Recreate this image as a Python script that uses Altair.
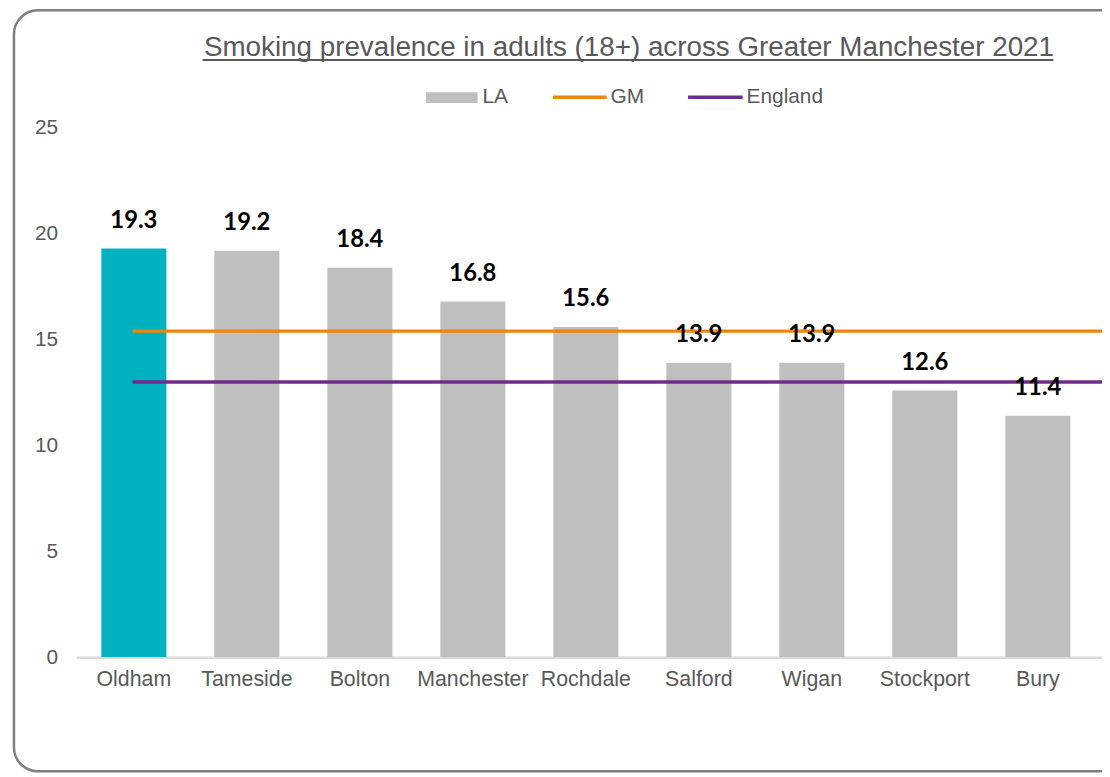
import altair as alt
import pandas as pd

# ---- data ----
areas = ["Oldham", "Tameside", "Bolton", "Manchester", "Rochdale",
         "Salford", "Wigan", "Stockport", "Bury"]
prevalence = [19.3, 19.2, 18.4, 16.8, 15.6, 13.9, 13.9, 12.6, 11.4]
highlight_area = "Oldham"
ref_series = ["GM", "England"]
ref_values = [15.4, 13.0]
legend_labels = ["LA", "GM", "England"]
y_ticks = [0, 5, 10, 15, 20, 25]
title_text = "Smoking prevalence in adults (18+) across Greater Manchester 2021"

# ---- styling ----
TEAL = "#00B1BF"
GREY = "#BFBFBF"
ORANGE = "#EC870E"
PURPLE = "#702C8A"
TXT = "#595959"
FONT = "Liberation Sans"

W, H = 1033, 533

bars_df = pd.DataFrame({"area": areas, "value": prevalence})
ref_df = pd.DataFrame({"series": ref_series, "value": ref_values,
                       "start": [areas[0]] * len(ref_series)})

xscale = alt.Scale(domain=areas, paddingInner=0.4245, paddingOuter=0.25, align=0.44)
yscale = alt.Scale(domain=[0, 25], nice=False)

xaxis = alt.Axis(title=None, ticks=False, grid=False, domainColor="#D9D9D9",
                 domainWidth=2, labelFont=FONT, labelFontSize=21.5, labelColor=TXT,
                 labelPadding=12, labelAngle=0)
yaxis = alt.Axis(title=None, values=y_ticks, domain=False, ticks=False, grid=False,
                 labelFont=FONT, labelFontSize=21, labelColor=TXT, labelPadding=19)

base = alt.Chart(bars_df)

# light grey category baseline
baseline = alt.Chart(pd.DataFrame({"k": [0]})).mark_rule(color="#D9D9D9", strokeWidth=2).encode(
    x=alt.value(0), x2=alt.value(W + 20), y=alt.value(H + 1))

bars = base.mark_bar().encode(
    x=alt.X("area:N", scale=xscale, axis=xaxis, sort=areas),
    y=alt.Y("value:Q", scale=yscale, axis=yaxis),
    color=alt.condition(alt.datum.area == highlight_area, alt.value(TEAL), alt.value(GREY)),
)

labels = base.mark_text(dy=-28, font="Lato", fontWeight="bold", fontSize=24,
                        color="black", baseline="middle").encode(
    x=alt.X("area:N", scale=xscale, sort=areas),
    y=alt.Y("value:Q", scale=yscale),
    text=alt.Text("value:Q", format=".1f"),
)

rules = alt.Chart(ref_df).mark_rule(strokeWidth=3.5, strokeCap="round").encode(
    x=alt.X("start:N", scale=xscale, sort=areas),
    x2=alt.value(W + 40),
    y=alt.Y("value:Q", scale=yscale),
    color=alt.Color("series:N", scale=alt.Scale(domain=ref_series, range=[ORANGE, PURPLE]),
                    legend=None),
)

# ---- frame ----
frame = alt.Chart(pd.DataFrame({"k": [0]})).mark_rect(
    fill="transparent", stroke="#7F7F7F", strokeWidth=2.5, cornerRadius=24
).encode(x=alt.value(-63), x2=alt.value(W + 120), y=alt.value(-118.5), y2=alt.value(648))

# ---- title with underline ----
title = alt.Chart(pd.DataFrame({"t": [title_text]})).mark_text(
    font=FONT, fontSize=28, color=TXT, align="center", baseline="alphabetic"
).encode(x=alt.value(556.5), y=alt.value(-72.5), text="t:N")
underline = alt.Chart(pd.DataFrame({"k": [0]})).mark_rule(color=TXT, strokeWidth=2).encode(
    x=alt.value(127), x2=alt.value(984), y=alt.value(-68.5))

# ---- manual legend ----
leg_df = pd.DataFrame({"label": legend_labels})
leg_la = alt.Chart(leg_df).transform_filter(alt.datum.label == "LA").mark_rect(color=GREY).encode(
    x=alt.value(352), x2=alt.value(404), y=alt.value(-36), y2=alt.value(-25))
leg_gm = alt.Chart(leg_df).transform_filter(alt.datum.label == "GM").mark_rule(
    color=ORANGE, strokeWidth=3.5).encode(x=alt.value(480), x2=alt.value(534), y=alt.value(-31))
leg_en = alt.Chart(leg_df).transform_filter(alt.datum.label == "England").mark_rule(
    color=PURPLE, strokeWidth=3.5).encode(x=alt.value(616), x2=alt.value(671), y=alt.value(-31))
text_style = dict(font=FONT, fontSize=21, color=TXT, align="left", baseline="middle")
leg_text_la = alt.Chart(leg_df).transform_filter(alt.datum.label == "LA").mark_text(
    **text_style).encode(x=alt.value(409), y=alt.value(-31.5), text="label:N")
leg_text_gm = alt.Chart(leg_df).transform_filter(alt.datum.label == "GM").mark_text(
    **text_style).encode(x=alt.value(538), y=alt.value(-31.5), text="label:N")
leg_text_en = alt.Chart(leg_df).transform_filter(alt.datum.label == "England").mark_text(
    **text_style).encode(x=alt.value(675), y=alt.value(-31.5), text="label:N")

chart = alt.layer(
    frame, baseline, bars, rules, labels, title, underline,
    leg_la, leg_gm, leg_en, leg_text_la, leg_text_gm, leg_text_en,
).properties(
    width=W, height=H, autosize="none",
    padding={"left": 77 - 8, "top": 118, "right": 0, "bottom": 118},
).configure(background="white").configure_view(stroke=None)

chart.save("out.html", embed_options={"renderer": "svg", "actions": False})
